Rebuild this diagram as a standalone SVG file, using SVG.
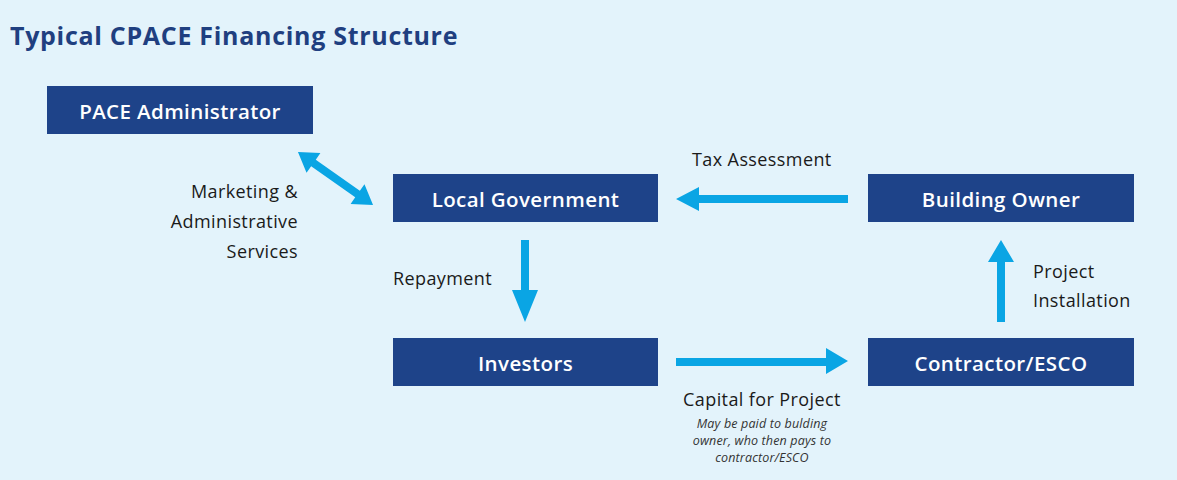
<svg xmlns="http://www.w3.org/2000/svg" width="1177" height="480" viewBox="0 0 1177 480">
<style>
.node rect{fill:#1e4389;}
.node text{fill:#ffffff;font-family:"Open Sans","Noto Sans",sans-serif;font-weight:600;font-size:20.5px;text-anchor:middle;letter-spacing:0.4px;}
.lbl{fill:#1a1a1a;font-family:"Open Sans","Noto Sans",sans-serif;font-size:18px;letter-spacing:0.4px;}
.note{fill:#333333;font-family:"Open Sans","Noto Sans",sans-serif;font-style:italic;font-size:12.5px;text-anchor:middle;letter-spacing:0.15px;}
.arr{fill:#0aa5e4;}
</style>
<rect width="1177" height="480" fill="#e3f3fb"/>
<text x="10" y="45" fill="#1f3f80" font-family="'Open Sans','Noto Sans',sans-serif" font-weight="bold" font-size="25" letter-spacing="0.7">Typical CPACE Financing Structure</text>
<g id="pace-admin" class="node"><rect x="47" y="86" width="266" height="48"/><text x="180" y="118.5">PACE Administrator</text></g>
<g id="local-gov" class="node"><rect x="393" y="174" width="265" height="48"/><text x="525.5" y="206.5">Local Government</text></g>
<g id="building-owner" class="node"><rect x="868" y="174" width="266" height="48"/><text x="1001" y="206.5">Building Owner</text></g>
<g id="investors" class="node"><rect x="393" y="338" width="265" height="48"/><text x="525.5" y="370.5">Investors</text></g>
<g id="contractor" class="node"><rect x="868" y="338" width="266" height="48"/><text x="1001" y="370.5">Contractor/ESCO</text></g>
<g id="connectors">
<polygon class="arr" transform="translate(335.5,178.5) rotate(35.3)" points="-46,0 -27,-12 -27,-4 27,-4 27,-12 46,0 27,12 27,4 -27,4 -27,12"/>
<polygon class="arr" points="676,199 699,187 699,195 848,195 848,203 699,203 699,211"/>
<polygon class="arr" points="521,240 529,240 529,290 538,290 525,322 512,290 521,290"/>
<polygon class="arr" points="676,358 826,358 826,348 848,361 826,374 826,366 676,366"/>
<polygon class="arr" points="997,322 1005,322 1005,262 1014,262 1001,240 988,262 997,262"/>
</g>
<g id="labels">
<text class="lbl" x="298" y="198" text-anchor="end">Marketing &amp;</text>
<text class="lbl" x="298" y="228" text-anchor="end">Administrative</text>
<text class="lbl" x="298" y="258" text-anchor="end">Services</text>
<text class="lbl" x="692" y="166">Tax Assessment</text>
<text class="lbl" x="393" y="285">Repayment</text>
<text class="lbl" x="1033" y="278">Project</text>
<text class="lbl" x="1033" y="307">Installation</text>
<text class="lbl" x="762" y="406" text-anchor="middle">Capital for Project</text>
<text class="note" x="762" y="428">May be paid to bulding</text>
<text class="note" x="762" y="445">owner, who then pays to</text>
<text class="note" x="762" y="462">contractor/ESCO</text>
</g>
</svg>
